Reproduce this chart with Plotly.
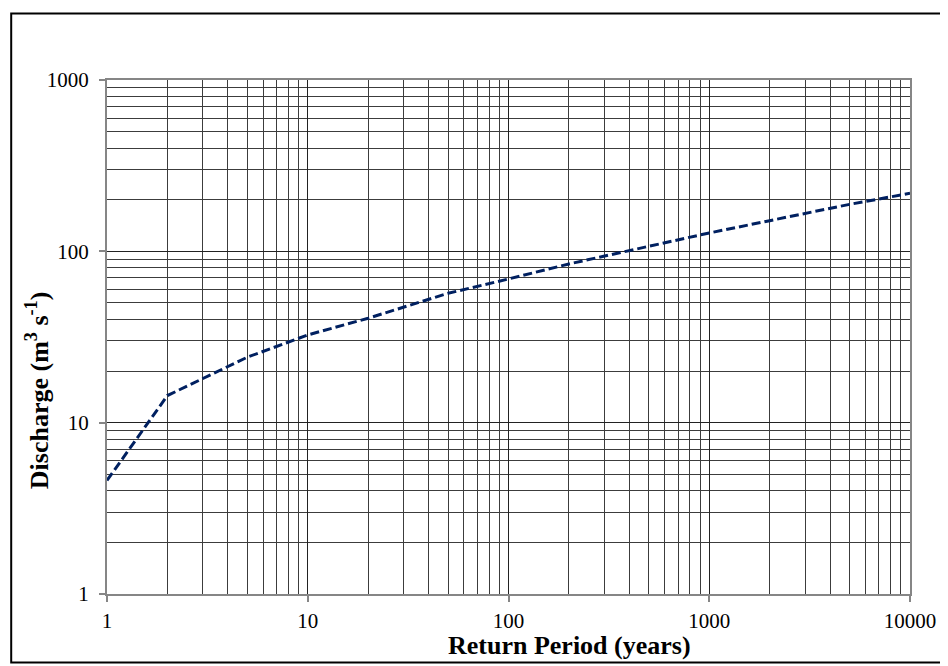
import plotly.graph_objects as go

# Data
return_period = [1, 2, 5, 10, 20, 50, 100, 200, 500, 1000, 2000, 5000, 10000]
discharge = [4.6, 14.4, 24.1, 32.5, 40.7, 56.9, 69.0, 84.4, 107.0, 128.0, 151.0, 188.0, 218.0]

x_tick_vals = [1, 10, 100, 1000, 10000]
x_tick_text = ["1", "10", "100", "1000", "10000"]
y_tick_vals = [1, 10, 100, 1000]
y_tick_text = ["1", "10", "100", "1000"]

x_minor = [m * d for d in [1, 10, 100, 1000] for m in range(2, 10)]
y_minor = [m * d for d in [1, 10, 100] for m in range(2, 10)]

FONT = "Liberation Serif, Times New Roman, serif"

fig = go.Figure()
fig.add_trace(go.Scatter(
    x=return_period, y=discharge, mode="lines",
    line=dict(color="#002060", width=3, dash="9px,4px"),
    showlegend=False, hoverinfo="skip",
))

axis_common = dict(
    type="log",
    showline=True, linecolor="#868686", linewidth=2, mirror=True,
    ticks="outside", ticklen=6, tickcolor="#868686", tickwidth=1.5,
    showgrid=True, gridcolor="#222222", gridwidth=1,
    zeroline=False,
    tickfont=dict(family=FONT, size=21, color="#000000"),
)

fig.update_xaxes(
    range=[0, 4], tickmode="array", tickvals=x_tick_vals, ticktext=x_tick_text,
    ticklabelstandoff=1,
    minor=dict(tickmode="array", tickvals=x_minor, showgrid=True,
               gridcolor="#3c3c3c", gridwidth=1, ticks=""),
    **axis_common,
)
fig.update_yaxes(
    range=[0, 3], tickmode="array", tickvals=y_tick_vals, ticktext=y_tick_text,
    ticklabelstandoff=6,
    minor=dict(tickmode="array", tickvals=y_minor, showgrid=True,
               gridcolor="#3c3c3c", gridwidth=1, ticks=""),
    **axis_common,
)

fig.update_layout(
    width=940, height=658,
    margin=dict(l=99, r=36, t=72, b=72),
    paper_bgcolor="white", plot_bgcolor="white",
    font=dict(family=FONT, color="#000000"),
    shapes=[dict(type="rect", xref="paper", yref="paper",
                 x0=-0.1193, x1=1.08, y0=-0.1333, y1=1.1294,
                 line=dict(color="#000000", width=2), layer="below")],
    annotations=[
        dict(text="<b>Return Period (years)</b>", xref="paper", yref="paper",
             x=0.5764, y=-0.1008, xanchor="center", yanchor="middle",
             showarrow=False, font=dict(family=FONT, size=26, color="#000000")),
        dict(text="<b>Discharge (m<sup>3</sup> s<sup>-1</sup>)</b>", xref="paper", yref="paper",
             x=-0.0857, y=0.3969, xanchor="center", yanchor="middle", textangle=-90,
             showarrow=False, font=dict(family=FONT, size=26, color="#000000")),
    ],
)

fig.write_html("out.html")
